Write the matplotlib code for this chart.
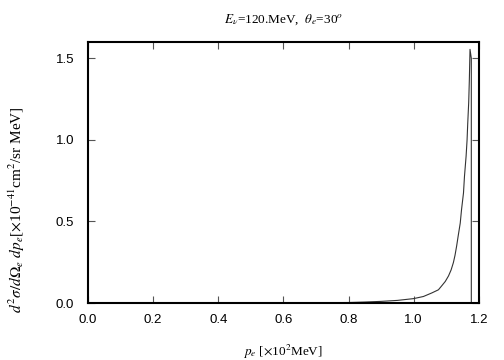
import matplotlib
matplotlib.use("Agg")
import matplotlib.pyplot as plt

plt.rcParams["font.family"] = ["Liberation Sans", "DejaVu Sans"]
plt.rcParams["mathtext.fontset"] = "stix"

# ---- data: p_e [x10^2 MeV] -> cross section ----
p_e = [0.0, 0.2, 0.4, 0.6, 0.8, 0.85, 0.9, 0.95, 1.0, 1.03, 1.056, 1.076,
       1.086, 1.097, 1.107, 1.115, 1.122, 1.127, 1.132, 1.137, 1.143, 1.147,
       1.153, 1.156, 1.161, 1.164, 1.166, 1.169, 1.171, 1.173,
       1.177, 1.177, 1.2]
xsec = [0.0, 0.0, 0.0, 0.001, 0.003, 0.006, 0.01, 0.016, 0.027, 0.04, 0.062,
        0.081, 0.105, 0.132, 0.166, 0.203, 0.248, 0.293, 0.35, 0.415, 0.49,
        0.573, 0.675, 0.776, 0.90, 1.0, 1.10, 1.23, 1.37, 1.555,
        1.50, 0.0, 0.0]

x_ticks = [0.0, 0.2, 0.4, 0.6, 0.8, 1.0, 1.2]
y_ticks = [0.0, 0.5, 1.0, 1.5]

fig = plt.figure(figsize=(5.04, 3.6), dpi=100)
ax = fig.add_axes([0.1746, 0.1583, 0.7754, 0.725])

ax.plot(p_e, xsec, color="#333333", linewidth=0.8)

ax.set_xlim(0, 1.2)
ax.set_ylim(0, 1.6)
ax.set_xticks(x_ticks)
ax.set_yticks(y_ticks)
ax.set_xticklabels([f"{v:.1f}" for v in x_ticks])
ax.set_yticklabels([f"{v:.1f}" for v in y_ticks])
ax.tick_params(direction="in", top=True, right=True, length=5, width=0.8,
               labelsize=9.5, color="#555555")
ax.tick_params(axis="x", pad=8)
ax.tick_params(axis="y", pad=10)
for sp in ax.spines.values():
    sp.set_linewidth(1.5)

ax.set_title(r"$E_\nu$=120.MeV,  $\theta_e$=30$^o$", fontsize=9.5,
             family="Liberation Serif", pad=14)
fig.text(0.562, 0.022, r"$p_e$ [$\times$10$^2$MeV]", ha="center", va="center",
         fontsize=9.5, family="Liberation Serif")
fig.text(0.034, 0.417,
         r"$d^2\sigma/d\Omega_e\ dp_e$[$\times$10$^{-41}$cm$^2$/sr MeV]",
         rotation=90, ha="center", va="center", fontsize=11,
         family="Liberation Serif")

fig.savefig("out.png", dpi=100)
